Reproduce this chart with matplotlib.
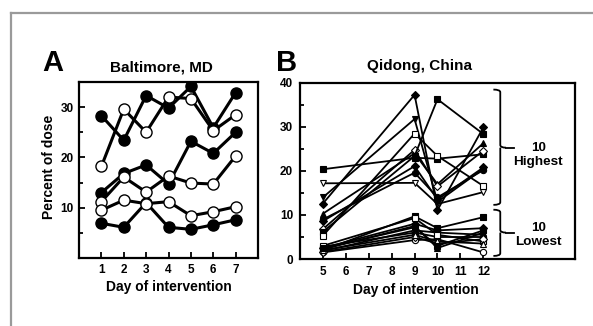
import matplotlib
matplotlib.use("Agg")
import matplotlib.pyplot as plt
from matplotlib.lines import Line2D
from matplotlib.patches import PathPatch
from matplotlib.path import Path

plt.rcParams["font.family"] = ["Liberation Sans", "DejaVu Sans"]
plt.rcParams["font.weight"] = "bold"

# Panel A: Baltimore, MD (days 1-7)
days_a = [1, 2, 3, 4, 5, 6, 7]
balt_filled = [
    [28.3, 23.4, 32.3, 29.8, 34.1, 25.9, 32.9],
    [13.0, 16.8, 18.5, 14.7, 23.2, 20.8, 25.0],
    [6.9, 6.1, 11.0, 6.1, 5.7, 6.6, 7.6],
]
balt_open = [
    [18.2, 29.6, 25.0, 32.0, 31.7, 25.3, 28.5],
    [11.2, 16.1, 13.1, 16.3, 14.9, 14.7, 20.3],
    [9.5, 11.5, 10.8, 11.2, 8.4, 9.2, 10.2],
]

# Panel B: Qidong, China (days 5, 9, 10, 12)
days_b = [5, 9, 10, 12]
qid_high = [
    [20.4, 23.0, 22.8, 23.8],
    [17.2, 17.3, 12.5, 15.2],
    [14.0, 31.8, 13.0, 20.5],
    [12.6, 37.3, 11.1, 29.9],
    [10.3, 24.0, 17.0, 26.3],
    [9.0, 19.6, 14.0, 20.2],
    [8.6, 21.1, 13.5, 20.8],
    [6.8, 24.8, 16.5, 24.6],
    [6.2, 23.4, 36.3, 28.4],
    [5.3, 28.5, 23.4, 16.6],
]
qid_low = [
    [2.0, 9.7, 7.0, 9.5],
    [2.5, 8.0, 6.5, 7.0],
    [1.5, 4.3, 4.5, 1.5],
    [2.2, 7.5, 2.5, 6.0],
    [1.8, 6.5, 6.0, 5.5],
    [2.8, 6.0, 5.0, 5.0],
    [3.0, 9.3, 5.5, 4.0],
    [1.6, 5.0, 3.5, 4.5],
    [2.0, 5.5, 4.0, 3.5],
    [2.4, 7.2, 3.0, 6.5],
]
markers_b = [("s", True), ("v", False), ("v", True), ("D", True), ("^", True),
             ("o", True), ("D", True), ("D", False), ("s", True), ("s", False)]
markers_low = [("s", True), ("D", True), ("o", False), ("^", True), ("v", True),
               ("o", True), ("s", False), ("D", False), ("^", False), ("s", True)]

fig = plt.figure(figsize=(5.93, 3.26), dpi=100)

# grey frame (top and left edges only are visible)
fig.add_artist(Line2D([11 / 593, 1.0], [1 - 13 / 326] * 2, color="#9a9a9a", lw=1.6))
fig.add_artist(Line2D([11 / 593] * 2, [0, 1 - 13 / 326], color="#9a9a9a", lw=1.6))


def style(ax, pad=4):
    for s in ax.spines.values():
        s.set_linewidth(1.6)
    ax.tick_params(direction="in", length=4, width=1.3, labelsize=8.5, pad=pad)
    ax.tick_params(which="minor", direction="in", length=3, width=1.3)
    for lab in ax.get_xticklabels() + ax.get_yticklabels():
        lab.set_fontweight("bold")


axA = fig.add_axes([0.1332, 0.2086, 0.302, 0.540])
for ys in balt_filled:
    axA.plot(days_a, ys, "-o", color="black", lw=2.2, ms=8, mfc="black", mec="black", zorder=3)
for ys in balt_open:
    axA.plot(days_a, ys, "-o", color="black", lw=2.2, ms=8, mfc="white", mec="black", mew=1.0, zorder=3)
axA.set_xlim(0, 8)
axA.set_ylim(0, 35)
axA.set_xticks(days_a)
axA.set_yticks([10, 20, 30])
axA.set_yticks([5, 15, 25], minor=True)
style(axA)
axA.text(-0.165, 0.52, "Percent of dose", transform=axA.transAxes, rotation=90,
         ha="center", va="center", fontsize=10, fontweight="bold")
axA.set_xlabel("Day of intervention", fontsize=10, fontweight="bold", labelpad=3)
axA.text(3.7, 36.4, "Baltimore, MD", ha="center", va="bottom", fontsize=11, fontweight="bold")

axB = fig.add_axes([0.5059, 0.2055, 0.4637, 0.540])
for ys, (m, filled) in zip(qid_high, markers_b):
    axB.plot(days_b, ys, "-", marker=m, color="black", lw=1.3, ms=4.5,
             mfc="black" if filled else "white", mec="black", mew=0.8, zorder=3)
for ys, (m, filled) in zip(qid_low, markers_low):
    axB.plot(days_b, ys, "-", marker=m, color="black", lw=1.3, ms=4.5,
             mfc="black" if filled else "white", mec="black", mew=0.8, zorder=3)
axB.set_xlim(4, 16)
axB.set_ylim(0, 40)
axB.set_xticks(range(5, 13))
axB.set_yticks(range(0, 41, 10))
axB.set_yticks(range(5, 40, 10), minor=True)
style(axB, pad=5)
axB.text(9.05, -7.1, "Day of intervention", ha="center", va="center", fontsize=10, fontweight="bold")
axB.text(9.2, 42.3, "Qidong, China", ha="center", va="bottom", fontsize=11, fontweight="bold")


def brace(ax, x0, x1, ytop, ybot, ymid):
    r = 0.6
    verts = [(x0, ytop), (x1, ytop), (x1, ytop - r),
             (x1, ymid + r), (x1, ymid), (x1 + 0.25, ymid),
             (x1, ymid), (x1, ymid - r),
             (x1, ybot + r), (x1, ybot), (x0, ybot)]
    codes = [Path.MOVETO, Path.CURVE3, Path.CURVE3,
             Path.LINETO, Path.CURVE3, Path.CURVE3,
             Path.MOVETO, Path.CURVE3,
             Path.LINETO, Path.CURVE3, Path.CURVE3]
    ax.add_patch(PathPatch(Path(verts, codes), fill=False, lw=1.3, color="black", clip_on=False))
    ax.plot([x1 + 0.25, x1 + 0.6], [ymid, ymid], color="black", lw=1.3, clip_on=False)


brace(axB, 12.44, 12.74, 38.5, 12.3, 25.3)
brace(axB, 12.44, 12.74, 11.2, 0.7, 6.0)
axB.text(14.4, 23.7, "10\nHighest", ha="center", va="center", fontsize=9.7, fontweight="bold", linespacing=1.2)
axB.text(14.4, 5.5, "10\nLowest", ha="center", va="center", fontsize=9.7, fontweight="bold", linespacing=1.2)

fig.text(42 / 593, 1 - 63 / 326, "A", fontsize=21, fontweight="bold", va="center", ha="left")
fig.text(276 / 593, 1 - 63 / 326, "B", fontsize=21, fontweight="bold", va="center", ha="left")

fig.savefig("out.png", dpi=100)
